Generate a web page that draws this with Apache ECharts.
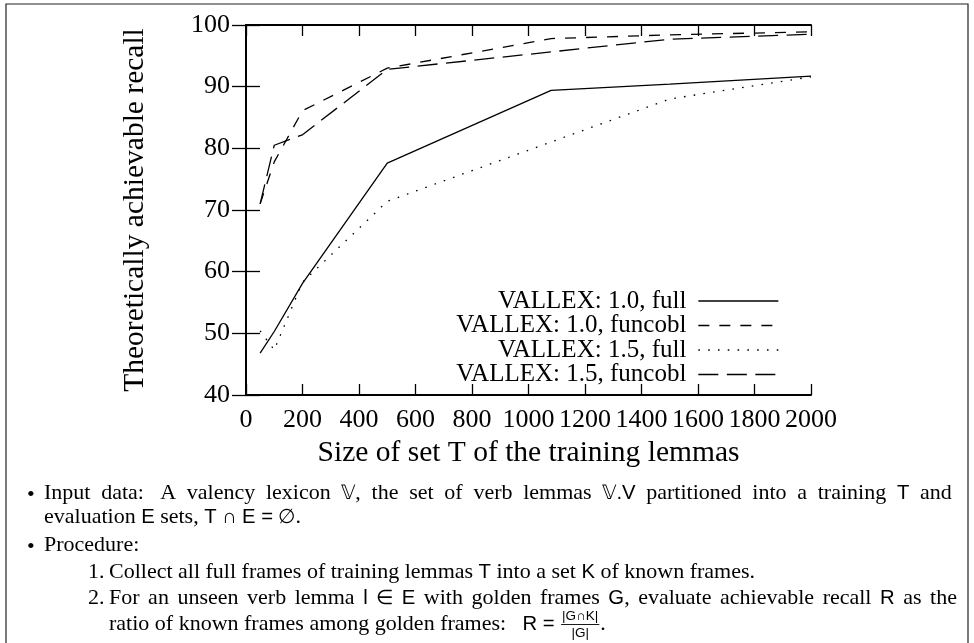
<!DOCTYPE html>
<html><head><meta charset="utf-8">
<script src="https://cdn.jsdelivr.net/npm/echarts@6/dist/echarts.min.js"></script>
<style>html,body{margin:0;padding:0;background:#fff}#c{width:974px;height:643px}</style>
</head><body><div id="c"></div>
<script>
// ---------- data ----------
const seriesNames = ['VALLEX: 1.0, full', 'VALLEX: 1.0, funcobl', 'VALLEX: 1.5, full', 'VALLEX: 1.5, funcobl'];
const x10 = [50, 100, 200, 500, 1080, 1500, 2000];
const full10 = [46.8, 50.3, 58.1, 77.6, 89.4, 90.4, 91.7];
const funcobl10 = [71.0, 77.8, 86.1, 93.0, 97.8, 98.4, 98.9];
const x15 = [50, 100, 200, 500, 1500, 2000];
const full15 = [50.4, 47.3, 58.3, 71.4, 88.0, 91.6];
const funcobl15 = [71.0, 80.5, 82.2, 92.8, 97.7, 98.5];
const xTitle = 'Size of set T of the training lemmas';
const yTitle = 'Theoretically achievable recall';

const textLines = [
  {y: 493, x0: 44, bullet: '\u2022', bx: 27, justify: 957, text: 'Input data:  A valency lexicon {\uD835\uDD4D}, the set of verb lemmas {\uD835\uDD4D.V} partitioned into a training {T} and'},
  {y: 517, x0: 44, text: 'evaluation {E} sets, {T} {\u2229} {E} {=} {\u2205}.'},
  {y: 545, x0: 44, bullet: '\u2022', bx: 27, text: 'Procedure:'},
  {y: 572, x0: 109, bullet: '1.', bx: 88, text: 'Collect all full frames of training lemmas {T} into a set {K} of known frames.'},
  {y: 598, x0: 109, bullet: '2.', bx: 88, justify: 957, text: 'For an unseen verb lemma {l} {\u2208} {E} with golden frames {G}, evaluate achievable recall {R} as the'},
  {y: 624, x0: 109, text: 'ratio of known frames among golden frames:   {R} {=}', frac: ['|G\u2229K|', '|G|']}
];

// ---------- helpers ----------
const SERIF = 'Liberation Serif', SANS = 'Liberation Sans';
const F = { s: {size: 22, family: SERIF}, m: {size: 20.3, family: SANS}, f: {size: 13.5, family: SANS} };
const ctx = document.createElement('canvas').getContext('2d');
function tw(t, f) { ctx.font = f.size + 'px "' + f.family + '"'; return ctx.measureText(t).width; }
function parseWord(word) {
  return word.split(/(\{[^}]*\})/).filter(s => s.length).map(s =>
    s[0] === '{' ? {t: s.slice(1, -1), f: F.m} : {t: s, f: F.s});
}
function txt(x, y, t, f, align) {
  return {type: 'text', x: x, y: y, silent: true,
    style: {text: t, fontSize: f.size, fontFamily: f.family, fill: '#000',
            align: align || 'left', verticalAlign: 'middle'}};
}
const graphics = [{type: 'rect', silent: true, shape: {x: 6, y: 4, width: 962, height: 700},
  style: {fill: 'none', stroke: '#222', lineWidth: 1.2}}];
textLines.forEach(L => {
  if (L.bullet) {
    if (L.bullet === '\u2022') graphics.push(txt(L.bx, L.y + 2, L.bullet, {size: 22, family: SERIF}));
    else graphics.push(txt(L.bx, L.y, L.bullet, F.s));
  }
  const words = L.text.split(' ').map(parseWord);
  const widths = words.map(ws => ws.reduce((a, s) => a + tw(s.t, s.f), 0));
  const sp = tw(' ', F.s);
  let gap = sp;
  const total = widths.reduce((a, b) => a + b, 0);
  if (L.justify) gap = (L.justify - L.x0 - total) / (words.length - 1);
  let x = L.x0;
  words.forEach((ws, i) => {
    if (ws.length === 0) { x += sp; return; }
    ws.forEach(s => { graphics.push(txt(x, L.y, s.t, s.f)); x += tw(s.t, s.f); });
    x += gap;
  });
  if (L.frac) {
    const fx = x + 1;
    const fw = Math.max(tw(L.frac[0], F.f), tw(L.frac[1], F.f)) + 2;
    graphics.push(txt(fx + fw / 2, L.y - 8, L.frac[0], F.f, 'center'));
    graphics.push(txt(fx + fw / 2, L.y + 9.5, L.frac[1], F.f, 'center'));
    graphics.push({type: 'line', silent: true, shape: {x1: fx, y1: L.y + 0.5, x2: fx + fw, y2: L.y + 0.5},
      style: {stroke: '#000', lineWidth: 0.9}});
    graphics.push(txt(fx + fw + 1, L.y, '.', F.s));
  }
});

const zip = (xs, ys) => xs.map((v, i) => [v, ys[i]]);
const lineTypes = ['solid', [11, 10], [1.6, 8.2], [20, 8.5]];
const datasets = [zip(x10, full10), zip(x10, funcobl10), zip(x15, full15), zip(x15, funcobl15)];

const axisFont = {fontFamily: SERIF, fontSize: 26, color: '#000'};
const titleFont = {fontFamily: SERIF, fontSize: 29.5, color: '#000'};
function xAx(pos, show) {
  return {type: 'value', position: pos, min: 0, max: 2000, interval: 200,
    axisLine: {show: true, lineStyle: {color: '#000', width: 2}},
    axisTick: {show: true, inside: true, length: 11, lineStyle: {color: '#000', width: 1.3}},
    axisLabel: show ? Object.assign({margin: 12, formatter: v => String(v), showMinLabel: true,
      showMaxLabel: true, hideOverlap: false}, axisFont) : {show: false},
    splitLine: {show: false},
    name: show ? xTitle : '', nameLocation: 'middle', nameGap: 42,
    nameTextStyle: titleFont};
}
function yAx(pos, show) {
  return {type: 'value', position: pos, min: 40, max: 100, interval: 10,
    axisLine: {show: true, lineStyle: {color: '#000', width: 2}},
    axisTick: {show: true, inside: true, length: 14, lineStyle: {color: '#000', width: 1.3}},
    axisLabel: show ? Object.assign({margin: 16, formatter: v => String(v)}, axisFont) : {show: false},
    splitLine: {show: false},
    name: show ? yTitle : '', nameLocation: 'middle', nameGap: 96, nameRotate: 90,
    nameTextStyle: titleFont};
}

const chart = echarts.init(document.getElementById('c'), null, {renderer: 'canvas'});
chart.setOption({
  animation: false,
  backgroundColor: '#fff',
  grid: {left: 246, right: 163, top: 25, bottom: 248, containLabel: false},
  xAxis: [xAx('bottom', true), xAx('top', false)],
  yAxis: [yAx('left', true), yAx('right', false)],
  legend: {
    orient: 'vertical', align: 'right', right: 195, top: 288.5, itemGap: -0.5, padding: 0,
    itemWidth: 80, itemHeight: 14, selectedMode: false,
    itemStyle: {opacity: 0},
    lineStyle: {width: 1.3},
    textStyle: {fontFamily: SERIF, fontSize: 25, color: '#000', padding: [0, 7, 0, 0]},
    data: seriesNames
  },
  series: seriesNames.map((n, i) => ({
    name: n, type: 'line', xAxisIndex: 0, yAxisIndex: 0, data: datasets[i],
    symbol: 'none', showSymbol: false,
    lineStyle: {color: '#000', width: 1.3, type: lineTypes[i]},
    itemStyle: {color: '#000'}
  })),
  graphic: graphics
});
</script></body></html>
